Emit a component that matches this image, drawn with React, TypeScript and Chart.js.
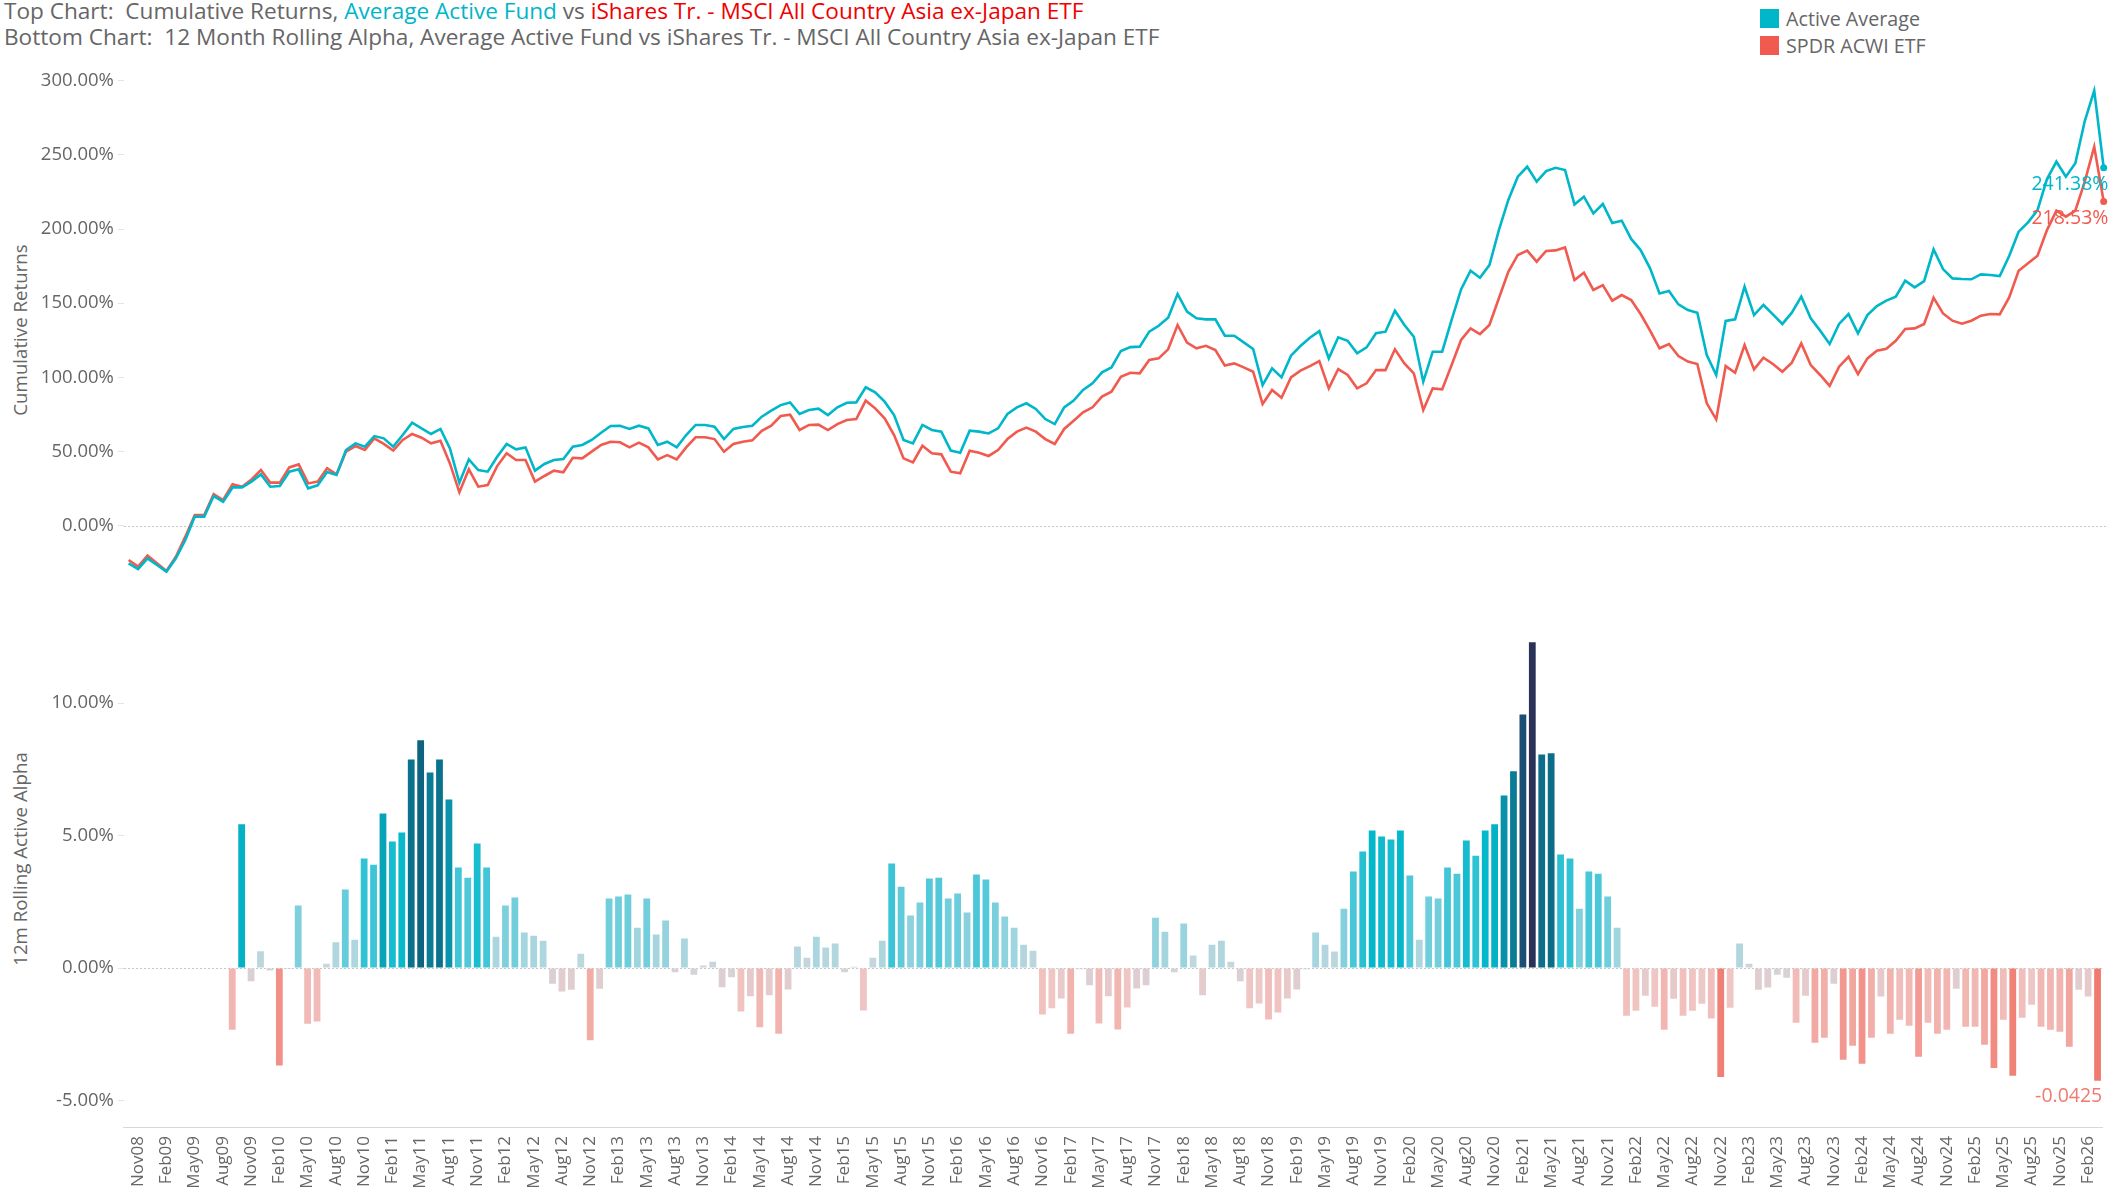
import React, { useEffect, useRef } from 'react';
import { Chart, registerables } from 'chart.js';

Chart.register(...registerables);

const FONT = "'Open Sans', 'Segoe UI', sans-serif";
const TEAL = '#00b7c9';
const RED = '#f05a4f';
const TEXT = '#666666';

// ---- categories (monthly, Oct08 .. Mar26) ----
const MONTH_NAMES = ['Jan', 'Feb', 'Mar', 'Apr', 'May', 'Jun', 'Jul', 'Aug', 'Sep', 'Oct', 'Nov', 'Dec'];
const FIRST_YEAR = 2008;
const FIRST_MONTH = 9; // October
const MONTH_COUNT = 210;
const months: string[] = Array.from({ length: MONTH_COUNT }, (_, i) => {
  const m = FIRST_MONTH + i;
  return MONTH_NAMES[m % 12] + String((FIRST_YEAR + Math.floor(m / 12)) % 100).padStart(2, '0');
});
// quarterly tick labels shown on the axis (Nov08, Feb09, ... Feb26)
const tickLabels: string[] = months.filter((_, i) => i % 3 === 1);
const tickLabelSet = new Set(tickLabels);

// ---- top chart: cumulative returns (%) ----
const activeCumulative: number[] = [
  -25.4, -29.2, -22.0, -26.5, -31.0, -22.0, -9.7, 6.1, 6.1, 20.0,
  16.2, 25.8, 25.8, 29.7, 34.6, 26.3, 26.7, 36.4, 38.0, 25.2,
  27.2, 36.2, 34.2, 51.0, 55.5, 53.3, 60.4, 58.9, 53.3, 61.1,
  69.4, 65.6, 61.8, 65.2, 52.1, 29.0, 44.7, 37.5, 36.4, 46.5,
  55.1, 51.5, 52.8, 37.1, 41.6, 44.3, 44.9, 53.3, 54.4, 57.8,
  62.7, 67.2, 67.4, 65.2, 67.4, 65.6, 54.4, 56.6, 52.8, 61.1,
  67.9, 67.9, 66.7, 58.4, 65.2, 66.5, 67.4, 73.5, 77.5, 81.3,
  83.1, 75.3, 78.0, 78.9, 74.6, 79.8, 82.9, 83.1, 93.3, 89.9,
  83.6, 74.6, 57.8, 55.5, 67.9, 64.5, 63.4, 50.6, 49.2, 64.0,
  63.4, 62.2, 65.6, 75.3, 79.8, 82.5, 78.7, 71.9, 68.5, 79.8,
  84.3, 91.5, 96.0, 103.4, 106.7, 117.8, 120.4, 120.7, 130.8, 134.8,
  140.2, 156.2, 144.3, 139.8, 139.1, 139.1, 128.1, 128.1, 123.6, 119.1,
  94.8, 106.1, 100.0, 114.6, 121.1, 126.7, 131.2, 112.8, 127.0, 124.7,
  116.2, 120.2, 129.7, 130.8, 144.9, 135.3, 127.4, 97.1, 117.3, 117.3,
  138.7, 159.3, 171.9, 167.2, 175.7, 199.3, 219.6, 235.3, 242.0, 231.9,
  239.1, 241.3, 239.8, 216.6, 221.8, 210.6, 216.9, 204.0, 205.6, 193.3,
  185.8, 173.5, 156.6, 158.2, 149.2, 145.4, 143.6, 115.1, 101.6, 138.0,
  139.1, 161.1, 142.0, 148.8, 142.5, 136.0, 143.6, 154.4, 139.8, 131.5,
  122.5, 136.0, 142.7, 129.7, 142.0, 148.1, 151.7, 154.4, 165.2, 160.7,
  164.9, 186.3, 173.0, 166.7, 166.3, 166.1, 169.4, 169.0, 168.3, 181.8,
  198.2, 204.5, 212.8, 233.7, 245.4, 235.3, 244.3, 272.8, 293.3, 241.38,
];

const etfCumulative: number[] = [
  -23.1, -27.6, -20.2, -25.4, -30.6, -20.9, -7.4, 7.2, 7.2, 21.3,
  17.3, 27.9, 26.3, 31.2, 37.5, 29.0, 29.0, 39.3, 41.3, 28.5,
  29.7, 38.7, 34.6, 49.9, 53.7, 51.0, 58.9, 55.1, 50.6, 57.8,
  61.8, 59.3, 55.5, 57.3, 42.0, 22.5, 38.0, 26.3, 27.4, 40.2,
  48.8, 44.3, 44.3, 29.7, 33.5, 37.1, 36.0, 45.8, 45.4, 49.9,
  54.4, 56.6, 56.2, 52.8, 56.0, 52.8, 44.7, 47.6, 44.7, 52.8,
  59.6, 59.6, 58.4, 49.9, 55.1, 56.6, 57.5, 64.0, 67.4, 73.9,
  74.8, 64.5, 67.9, 68.1, 64.5, 68.5, 71.2, 71.9, 84.3, 79.1,
  72.4, 61.1, 45.4, 42.7, 53.9, 48.8, 48.1, 36.4, 35.3, 50.6,
  49.2, 47.0, 51.0, 58.4, 63.4, 66.1, 63.4, 58.4, 55.1, 65.2,
  70.8, 76.4, 79.8, 87.0, 90.3, 100.4, 103.1, 102.7, 111.7, 112.8,
  118.9, 135.3, 123.4, 119.6, 121.3, 118.4, 107.9, 109.4, 106.7, 103.8,
  82.0, 91.5, 86.3, 100.0, 104.5, 107.6, 111.0, 92.6, 105.6, 101.6,
  92.6, 96.0, 104.9, 104.9, 118.9, 109.4, 102.7, 78.0, 92.6, 91.9,
  108.3, 125.2, 133.0, 129.2, 135.3, 153.3, 171.2, 182.5, 185.4, 178.0,
  185.2, 185.6, 187.6, 165.6, 170.6, 158.9, 162.2, 151.7, 155.5, 152.1,
  142.7, 131.5, 119.6, 122.5, 114.4, 110.6, 109.0, 82.5, 71.7, 107.6,
  103.1, 121.8, 105.4, 113.3, 109.0, 103.8, 109.9, 122.9, 108.3, 101.6,
  94.2, 107.2, 113.9, 102.2, 112.8, 118.0, 119.3, 124.7, 132.6, 133.0,
  136.0, 153.7, 143.1, 138.2, 136.2, 138.2, 141.6, 142.7, 142.5, 153.9,
  171.9, 176.9, 182.0, 199.3, 212.4, 208.3, 212.4, 231.9, 255.5, 218.53,
];

// ---- bottom chart: 12m rolling active alpha (%) ----
const rollingAlpha: (number | null)[] = [
  null, null, null, null, null, null, null, null, null, null,
  null, -2.33, 5.42, -0.50, 0.63, -0.09, -3.68, -0.04, 2.36, -2.10,
  -2.02, 0.16, 0.97, 2.96, 1.07, 4.13, 3.90, 5.83, 4.77, 5.11,
  7.87, 8.59, 7.38, 7.87, 6.36, 3.79, 3.41, 4.70, 3.79, 1.18,
  2.36, 2.66, 1.34, 1.22, 1.03, -0.59, -0.89, -0.82, 0.54, -2.73,
  -0.78, 2.62, 2.70, 2.77, 1.52, 2.62, 1.26, 1.79, -0.16, 1.11,
  -0.25, 0.09, 0.24, -0.73, -0.35, -1.64, -1.07, -2.24, -1.03, -2.48,
  -0.81, 0.81, 0.39, 1.18, 0.77, 0.92, -0.16, 0.05, -1.60, 0.39,
  1.03, 3.94, 3.07, 1.98, 2.47, 3.38, 3.41, 2.62, 2.81, 2.09,
  3.53, 3.34, 2.47, 1.94, 1.52, 0.88, 0.65, -1.75, -1.52, -1.15,
  -2.48, -0.05, -0.65, -2.09, -1.07, -2.32, -1.49, -0.77, -0.65, 1.90,
  1.37, -0.16, 1.68, 0.47, -1.03, 0.88, 1.03, 0.24, -0.50, -1.52,
  -1.34, -1.94, -1.68, -1.15, -0.81, -0.05, 1.34, 0.88, 0.62, 2.24,
  3.64, 4.40, 5.19, 4.96, 4.85, 5.19, 3.49, 1.07, 2.70, 2.62,
  3.79, 3.56, 4.81, 4.24, 5.19, 5.42, 6.51, 7.42, 9.57, 12.29,
  8.06, 8.10, 4.28, 4.13, 2.24, 3.64, 3.56, 2.70, 1.52, -1.80,
  -1.61, -1.05, -1.46, -2.33, -1.16, -1.80, -1.61, -1.35, -1.91, -4.11,
  -1.50, 0.92, 0.16, -0.82, -0.74, -0.25, -0.37, -2.07, -1.05, -2.82,
  -2.63, -0.59, -3.46, -2.93, -3.61, -2.63, -1.08, -2.48, -1.95, -2.18,
  -3.35, -2.07, -2.48, -2.33, -0.78, -2.22, -2.22, -2.90, -3.77, -1.95,
  -4.07, -1.88, -1.39, -2.22, -2.33, -2.41, -2.97, -0.82, -1.08, -4.25,
];

const topTicks = [0, 50, 100, 150, 200, 250, 300];
const bottomTicks = [-5, 0, 5, 10];

// ---- diverging colour scale for the alpha bars ----
const COLOR_STOPS: [number, number[]][] = [
  [-4.25, [240, 122, 112]],
  [-3.5, [242, 150, 142]],
  [-2.5, [242, 178, 173]],
  [-1.5, [240, 198, 196]],
  [-0.7, [221, 206, 209]],
  [0, [210, 212, 218]],
  [0.5, [190, 215, 222]],
  [1.5, [160, 213, 223]],
  [2.5, [120, 207, 220]],
  [4, [55, 196, 214]],
  [5.2, [4, 184, 203]],
  [6.2, [9, 152, 175]],
  [7.4, [10, 124, 150]],
  [8.6, [13, 99, 128]],
  [9.6, [26, 77, 114]],
  [12.3, [42, 50, 88]],
];
function alphaColor(v: number | null): string {
  if (v === null || v === undefined) return 'rgba(0,0,0,0)';
  if (v <= COLOR_STOPS[0][0]) return `rgb(${COLOR_STOPS[0][1].join(',')})`;
  for (let i = 1; i < COLOR_STOPS.length; i++) {
    const [v1, c1] = COLOR_STOPS[i];
    const [v0, c0] = COLOR_STOPS[i - 1];
    if (v <= v1) {
      const t = (v - v0) / (v1 - v0);
      const c = c0.map((a, k) => Math.round(a + (c1[k] - a) * t));
      return `rgb(${c.join(',')})`;
    }
  }
  return `rgb(${COLOR_STOPS[COLOR_STOPS.length - 1][1].join(',')})`;
}

// ---- layout ----
const PAGE_W = 2127;
const TOP_CANVAS_Y = 60;
const TOP_CANVAS_H = 540;
const BOT_CANVAS_Y = 600;
const BOT_CANVAS_H = 594;
const AXIS_W = 123.9;
const RIGHT_PAD = 18.6;

const zeroLinePlugin = {
  id: 'zeroLine',
  beforeDatasetsDraw(chart: any) {
    const { ctx, chartArea, scales } = chart;
    const y = Math.round(scales.y.getPixelForValue(0)) + 0.5;
    ctx.save();
    ctx.strokeStyle = '#c6c6c6';
    ctx.lineWidth = 1;
    ctx.setLineDash([2, 2]);
    ctx.beginPath();
    ctx.moveTo(chartArea.left, y);
    ctx.lineTo(chartArea.right, y);
    ctx.stroke();
    ctx.restore();
  },
};

const endLabelsPlugin = {
  id: 'endLabels',
  afterDatasetsDraw(chart: any) {
    const { ctx, chartArea } = chart;
    chart.data.datasets.forEach((ds: any, i: number) => {
      const meta = chart.getDatasetMeta(i);
      const pt = meta.data[meta.data.length - 1];
      const v = ds.data[ds.data.length - 1];
      ctx.save();
      ctx.fillStyle = ds.borderColor;
      ctx.font = `19.5px ${FONT}`;
      ctx.textAlign = 'right';
      ctx.textBaseline = 'middle';
      ctx.fillText(Number(v).toFixed(2) + '%', chartArea.right, pt.y + 17);
      ctx.restore();
    });
  },
};

const lastBarLabelPlugin = {
  id: 'lastBarLabel',
  afterDatasetsDraw(chart: any) {
    const { ctx, chartArea } = chart;
    const meta = chart.getDatasetMeta(0);
    const el = meta.data[meta.data.length - 1];
    const v = rollingAlpha[rollingAlpha.length - 1] as number;
    ctx.save();
    ctx.fillStyle = '#f07a70';
    ctx.font = `19.5px ${FONT}`;
    ctx.textAlign = 'right';
    ctx.textBaseline = 'middle';
    ctx.fillText((v / 100).toFixed(4), chartArea.right, el.y + 16);
    ctx.restore();
  },
};

export default function App() {
  const topRef = useRef<HTMLCanvasElement>(null);
  const botRef = useRef<HTMLCanvasElement>(null);

  useEffect(() => {
    Chart.defaults.font.family = FONT;
    const pointRadius = (c: any) => (c.dataIndex === MONTH_COUNT - 1 ? 3.5 : 0);

    const top = new Chart(topRef.current as HTMLCanvasElement, {
      type: 'line',
      data: {
        labels: months,
        datasets: [
          {
            label: 'Active Average',
            data: activeCumulative,
            borderColor: TEAL,
            backgroundColor: TEAL,
            pointBackgroundColor: TEAL,
            borderWidth: 2.6,
            tension: 0,
            pointRadius,
            pointBorderWidth: 0,
            pointHoverRadius: 0,
          },
          {
            label: 'SPDR ACWI ETF',
            data: etfCumulative,
            borderColor: RED,
            backgroundColor: RED,
            pointBackgroundColor: RED,
            borderWidth: 2.6,
            tension: 0,
            pointRadius,
            pointBorderWidth: 0,
            pointHoverRadius: 0,
          },
        ],
      },
      options: {
        responsive: false,
        animation: false,
        devicePixelRatio: 1,
        events: [],
        layout: { padding: { left: 0, right: RIGHT_PAD, top: 20.7, bottom: 22.4 } },
        plugins: { legend: { display: false }, tooltip: { enabled: false } },
        scales: {
          x: { type: 'category', display: false, offset: true },
          y: {
            min: -35,
            max: 300,
            afterBuildTicks: (s: any) => {
              s.ticks = topTicks.map((v) => ({ value: v }));
            },
            afterFit: (s: any) => {
              s.width = AXIS_W;
            },
            ticks: {
              callback: (v: any) => Number(v).toFixed(2) + '%',
              color: TEXT,
              font: { size: 18.5, family: FONT },
              padding: 4,
            },
            grid: { drawOnChartArea: false, tickLength: 6, color: '#e4e4e4' },
            border: { display: false },
          },
        },
      } as any,
      plugins: [zeroLinePlugin, endLabelsPlugin],
    });

    const bot = new Chart(botRef.current as HTMLCanvasElement, {
      type: 'bar',
      data: {
        labels: months,
        datasets: [
          {
            label: '12m Rolling Active Alpha',
            data: rollingAlpha,
            backgroundColor: (c: any) => alphaColor(c.raw),
            borderWidth: 0,
            categoryPercentage: 1,
            barPercentage: 0.72,
          },
        ],
      },
      options: {
        responsive: false,
        animation: false,
        devicePixelRatio: 1,
        events: [],
        layout: { padding: { left: 0, right: RIGHT_PAD, top: 23.5, bottom: 0 } },
        plugins: { legend: { display: false }, tooltip: { enabled: false } },
        scales: {
          x: {
            type: 'category',
            offset: true,
            grid: { display: false, drawTicks: false, tickLength: 0 },
            border: { display: true, color: '#d8d8d8', dash: [2, 2] },
            ticks: {
              autoSkip: false,
              maxRotation: 90,
              minRotation: 90,
              padding: 9,
              color: TEXT,
              font: { size: 17, family: FONT },
              callback: (_v: any, i: number) => (tickLabelSet.has(months[i]) ? months[i] : ''),
            },
            afterFit: (s: any) => {
              s.height = 67;
            },
          },
          y: {
            min: -6,
            max: 13,
            afterBuildTicks: (s: any) => {
              s.ticks = bottomTicks.map((v) => ({ value: v }));
            },
            afterFit: (s: any) => {
              s.width = AXIS_W;
            },
            ticks: {
              callback: (v: any) => Number(v).toFixed(2) + '%',
              color: TEXT,
              font: { size: 18.5, family: FONT },
              padding: 4,
            },
            grid: { drawOnChartArea: false, tickLength: 6, color: '#e4e4e4' },
            border: { display: false },
          },
        },
      } as any,
      plugins: [zeroLinePlugin, lastBarLabelPlugin],
    });

    return () => {
      top.destroy();
      bot.destroy();
    };
  }, []);

  const rotated = (text: string, cy: number): React.ReactNode => (
    <div
      style={{
        position: 'absolute',
        left: 20,
        top: cy,
        transform: 'translate(-50%, -50%) rotate(-90deg)',
        whiteSpace: 'nowrap',
        fontSize: 18.7,
        color: TEXT,
        lineHeight: '22px',
      }}
    >
      {text}
    </div>
  );

  return (
    <div
      style={{
        position: 'fixed',
        left: 0,
        top: 0,
        width: PAGE_W,
        height: 1194,
        background: '#ffffff',
        overflow: 'hidden',
        fontFamily: FONT,
      }}
    >
      <div style={{ position: 'absolute', left: 4, top: -2, fontSize: 22.6, color: TEXT, whiteSpace: 'pre' }}>
        <div style={{ height: 25.5, lineHeight: '25.5px' }}>
          <span>{'Top Chart:  Cumulative Returns, '}</span>
          <span style={{ color: '#00b5c8' }}>Average Active Fund</span>
          <span>{' vs '}</span>
          <span style={{ color: '#f00000' }}>iShares Tr. - MSCI All Country Asia ex-Japan ETF</span>
        </div>
        <div style={{ height: 25.5, lineHeight: '25.5px' }}>
          {'Bottom Chart:  12 Month Rolling Alpha, Average Active Fund vs iShares Tr. - MSCI All Country Asia ex-Japan ETF'}
        </div>
      </div>

      {[
        { label: 'Active Average', color: TEAL, y: 9 },
        { label: 'SPDR ACWI ETF', color: RED, y: 36 },
      ].map((item) => (
        <div key={item.label} style={{ position: 'absolute', left: 1760, top: item.y, height: 19, display: 'flex', alignItems: 'center' }}>
          <div style={{ width: 19, height: 19, background: item.color }} />
          <div style={{ marginLeft: 7, fontSize: 19.7, color: TEXT, whiteSpace: 'nowrap', lineHeight: '19px' }}>{item.label}</div>
        </div>
      ))}

      {rotated('Cumulative Returns', 330)}
      {rotated('12m Rolling Active Alpha', 859)}

      <canvas
        ref={topRef}
        width={PAGE_W}
        height={TOP_CANVAS_H}
        style={{ position: 'absolute', left: 0, top: TOP_CANVAS_Y, width: PAGE_W, height: TOP_CANVAS_H }}
      />
      <canvas
        ref={botRef}
        width={PAGE_W}
        height={BOT_CANVAS_H}
        style={{ position: 'absolute', left: 0, top: BOT_CANVAS_Y, width: PAGE_W, height: BOT_CANVAS_H }}
      />
    </div>
  );
}
